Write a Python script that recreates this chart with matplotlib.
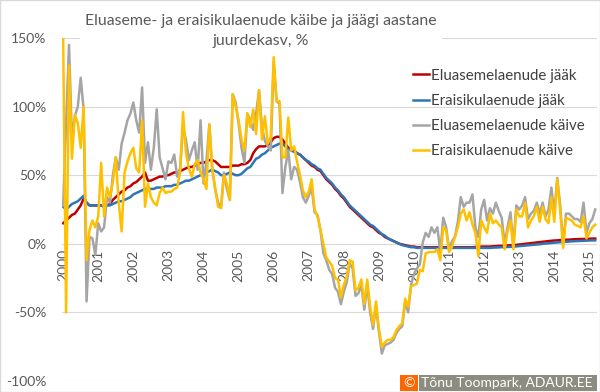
import matplotlib.pyplot as plt
from matplotlib.patches import Rectangle
import numpy as np

plt.rcParams['font.family'] = ['Lato', 'DejaVu Sans']

# kuised andmed 2000-01 ... 2015-03, aastane juurdekasv %
eluase_jaak = [
    15, 17, 19, 21, 22, 25, 28, 33, 30, 28, 28, 28,
    28, 28, 27, 28, 29, 32, 34, 36, 38, 39, 41, 42,
    44, 45, 47, 49, 52, 46, 46, 47, 48, 49, 49, 50,
    50, 51, 52, 52, 53, 54, 55, 56, 56, 57, 58, 59,
    59, 60, 61, 61, 60, 58, 56, 56, 56, 56, 57, 57,
    57, 58, 58, 59, 61, 66, 69, 71, 71, 71, 72, 74,
    77, 78, 78, 76, 73, 70, 69, 68, 66, 65, 63, 61,
    59, 57, 56, 54, 53, 50, 47, 45, 43, 40, 38, 35,
    33, 30, 27, 25, 23, 21, 19, 17, 15, 13, 12, 10,
    8, 7, 5, 4, 3, 2, 1, 0, -0.5, -1, -1.5, -2,
    -2, -2.5, -2.5, -2.5, -2.5, -2.5, -2.5, -2.5, -2.5, -2.5, -2.5, -2.5,
    -2.5, -2.5, -2.5, -2.5, -2.5, -2.5, -2.5, -2.5, -2.5, -2.3, -2.2, -2,
    -2, -2, -2, -1.8, -1.7, -1.5, -1.5, -1.3, -1.2, -1, -1, -0.8,
    -0.5, -0.3, 0, 0.2, 0.5, 0.7, 1, 1.2, 1.5, 1.7, 2, 2.2,
    2.4, 2.5, 2.7, 2.8, 3, 3, 3.2, 3.3, 3.4, 3.5, 3.5, 3.6,
    3.7, 3.8, 3.8]

eraisik_jaak = [
    27, 25, 27, 29, 30, 31, 33, 35, 30, 28, 28, 28,
    28, 28, 27, 28, 28, 29, 30, 31, 31, 32, 33, 34,
    36, 37, 38, 39, 40, 40, 40, 40, 41, 41, 41, 42,
    42, 42, 43, 43, 44, 45, 46, 46, 47, 48, 49, 50,
    51, 52, 53, 54, 53, 52, 50, 50, 51, 52, 51, 50,
    50, 51, 53, 55, 56, 59, 62, 63, 65, 66, 68, 70,
    71, 72, 73, 73, 71, 69, 68, 67, 66, 65, 63, 61,
    60, 58, 57, 55, 54, 51, 48, 46, 44, 41, 39, 36,
    34, 31, 28, 26, 24, 22, 20, 18, 16, 14, 13, 11,
    9, 7, 6, 4, 3, 2, 1, 0, -1, -1.5, -2, -2.5,
    -2.5, -3, -3, -3, -3, -3, -3, -3, -3, -3, -3, -3,
    -3, -3, -3, -3, -3, -3, -3, -3, -3, -3, -3, -3,
    -3, -3, -3, -2.8, -2.7, -2.6, -2.5, -2.4, -2.3, -2.2, -2, -1.9,
    -1.7, -1.5, -1.3, -1.1, -0.9, -0.7, -0.5, -0.3, 0, 0.2, 0.4, 0.6,
    0.8, 1, 1.2, 1.3, 1.5, 1.6, 1.8, 1.9, 2, 2.1, 2.2, 2.3,
    2.4, 2.5, 2.5]

eluase_kaive = [
    28, 88, 145, 76, 93, 100, 121, 98, -42, 5, 4, -8,
    15, 9, 12, 34, 30, 50, 63, 54, 73, 81, 90, 95,
    103, 90, 81, 114, 59, 74, 54, 70, 98, 63, 55, 47,
    60, 59, 65, 49, 55, 85, 76, 61, 68, 74, 54, 90,
    44, 60, 87, 54, 40, 30, 27, 52, 40, 32, 109, 103,
    88, 70, 59, 95, 90, 83, 95, 112, 85, 75, 71, 68,
    132, 104, 102, 37, 56, 68, 47, 56, 54, 45, 34, 30,
    35, 41, 23, 21, 10, -7, -12, -19, -22, -32, -35, -44,
    -35, -28, -14, -18, -38, -36, -30, -48, -30, -50, -62, -45,
    -64, -80, -74, -73, -72, -70, -65, -62, -60, -42, -50, -30,
    -22, -18, -15, 1, 8, 5, 12, 8, 12, -6, 19, 12,
    -4, 2, 5, 16, 34, 27, 30, 30, 36, 12, 5, 25,
    32, 17, 26, 22, 30, 24, 19, 0, 12, 23, -2, 28,
    25, 28, 34, 18, 22, 24, 30, 22, 30, 20, 25, 41,
    22, 48, 28, 0, 22, 22, 20, 18, 18, 16, 30, 8,
    15, 18, 25]

eraisik_kaive = [
    150, -50, 130, 62, 94, 88, 70, 100, -12, 10, 17, 12,
    20, 59, 20, 41, 34, 45, 63, 30, 9, 52, 60, 66,
    70, 55, 52, 90, 27, 44, 34, 30, 28, 37, 41, 37,
    38, 38, 40, 41, 52, 96, 66, 55, 49, 58, 61, 52,
    47, 40, 87, 55, 40, 27, 26, 50, 44, 32, 109, 100,
    90, 76, 68, 95, 85, 98, 80, 112, 76, 93, 73, 78,
    136, 104, 104, 63, 63, 92, 68, 71, 60, 50, 39, 34,
    38, 47, 25, 20, 10, 0, -10, -13, -16, -25, -26, -39,
    -30, -24, -12, -13, -34, -32, -26, -44, -26, -46, -59, -42,
    -62, -75, -72, -70, -70, -68, -63, -60, -58, -40, -46, -31,
    -30, -29, -19, -20, -7, -6, -6, -6, -4, -12, 12, 10,
    -6, -2, 5, 12, 22, 25, 17, 23, 14, 8, -9, 17,
    12, 8, 22, 15, 17, 14, 12, -4, 9, 17, -4, 25,
    20, 20, 30, 12, 17, 20, 27, 16, 27, 18, 15, 34,
    16, 47, 25, -3, 19, 18, 17, 14, 13, 12, 20, 4,
    8, 12, 14]

aastad = [str(a) for a in range(2000, 2016)]
y_ticks = [-100, -50, 0, 50, 100, 150]

kuud = np.arange(len(eluase_jaak))

fig = plt.figure(figsize=(6, 3.92), dpi=100)
ax = fig.add_axes([62/600, 1-381/392, 535/600, 343/392])

ax.plot(kuud, eluase_jaak, color='#C00000', lw=1.8, label='Eluasemelaenude jääk')
ax.plot(kuud, eraisik_jaak, color='#2E75B6', lw=1.8, label='Eraisikulaenude jääk')
ax.plot(kuud, eluase_kaive, color='#A5A5A5', lw=1.8, label='Eluasemelaenude käive')
ax.plot(kuud, eraisik_kaive, color='#FFC000', lw=1.8, label='Eraisikulaenude käive')

ax.set_ylim(-100, 150)
ax.set_xlim(-0.4, len(kuud) - 0.4)
ax.set_yticks(y_ticks)
ax.set_yticklabels([f'{v}%' for v in y_ticks])
ax.set_xticks(np.arange(0, len(kuud), 12))
ax.set_xticklabels(aastad)

ax.spines['bottom'].set_position(('data', 0))
for s in ax.spines.values():
    s.set_color('none')
ax.tick_params(axis='both', length=0, colors='#595959', labelsize=10)
ax.tick_params(axis='x', pad=4, labelrotation=90)
ax.tick_params(axis='y', pad=11)
ax.yaxis.grid(True, color='#D9D9D9', lw=0.8)
ax.set_axisbelow(True)

ax.legend(loc='upper left', bbox_to_anchor=(0.63, 0.95), frameon=False,
          fontsize=10.8, handlelength=1.1, handletextpad=0.15,
          labelspacing=0.74, labelcolor='#404040')

fig.text(0.435, 0.921, 'Eluaseme- ja eraisikulaenude käibe ja jäägi aastane\njuurdekasv, %',
         ha='center', va='center', fontsize=11.4, color='#595959', linespacing=1.5,
         bbox=dict(facecolor='white', edgecolor='none', pad=4))

# autori märge
fig.patches.append(Rectangle((400/600, 1-391/392), 18/600, 16/392, transform=fig.transFigure,
                             facecolor='#FF6600', edgecolor='none'))
fig.patches.append(Rectangle((419/600, 1-391/392), 178/600, 16/392, transform=fig.transFigure,
                             facecolor='#8C8C80', edgecolor='none'))
fig.text(409/600, 1-383/392, '©', ha='center', va='center', color='white', fontsize=10)
fig.text(421/600, 1-383/392, 'Tõnu Toompark, ADAUR.EE', ha='left', va='center',
         color='white', fontsize=10)

fig.patches.append(Rectangle((0, 0), 1, 1, transform=fig.transFigure, fill=False,
                             edgecolor='#D9D9D9', lw=1))

fig.savefig('out.png', dpi=100)
